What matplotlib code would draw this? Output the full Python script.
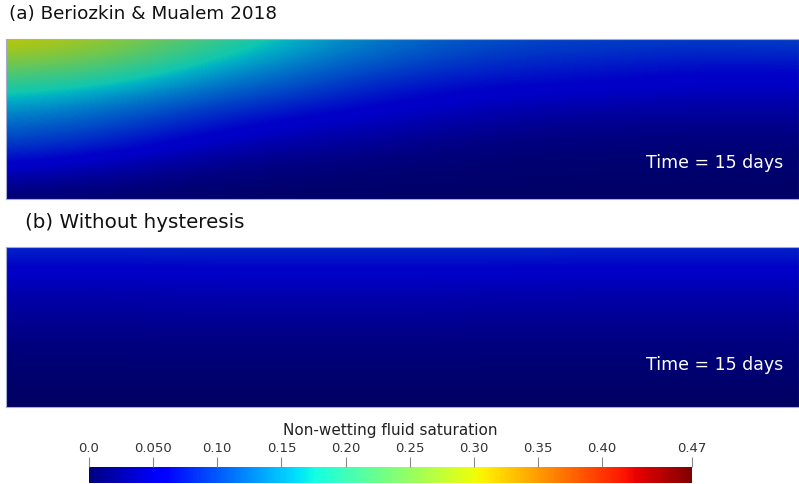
import numpy as np
import matplotlib
matplotlib.use("Agg")
import matplotlib.pyplot as plt
from matplotlib.colors import Normalize, ListedColormap

# saturation read on a coarse, evenly spaced grid (rows: top -> bottom, cols: left -> right)
n_cols = 9
n_rows = 7

sat_hyst = [
    [0.315, 0.280, 0.220, 0.160, 0.125, 0.105, 0.100, 0.097, 0.100],
    [0.245, 0.225, 0.165, 0.125, 0.100, 0.080, 0.075, 0.065, 0.068],
    [0.180, 0.155, 0.120, 0.095, 0.065, 0.055, 0.050, 0.045, 0.045],
    [0.130, 0.110, 0.080, 0.055, 0.045, 0.030, 0.025, 0.025, 0.025],
    [0.094, 0.075, 0.045, 0.030, 0.020, 0.012, 0.012, 0.010, 0.011],
    [0.045, 0.030, 0.015, 0.010, 0.008, 0.006, 0.005, 0.005, 0.005],
    [0.005, 0.004, 0.003, 0.002, 0.002, 0.002, 0.002, 0.002, 0.002],
]

sat_nohyst = [
    [0.085, 0.085, 0.086, 0.086, 0.086, 0.086, 0.085, 0.085, 0.085],
    [0.050, 0.050, 0.052, 0.052, 0.052, 0.052, 0.050, 0.050, 0.050],
    [0.035, 0.035, 0.036, 0.036, 0.036, 0.035, 0.035, 0.035, 0.035],
    [0.022, 0.022, 0.023, 0.023, 0.023, 0.022, 0.022, 0.022, 0.022],
    [0.012, 0.012, 0.012, 0.012, 0.012, 0.012, 0.012, 0.012, 0.012],
    [0.005, 0.005, 0.005, 0.005, 0.005, 0.005, 0.005, 0.005, 0.005],
    [0.000, 0.000, 0.000, 0.000, 0.000, 0.000, 0.000, 0.000, 0.000],
]

titles = ["(a) Beriozkin & Mualem 2018", "(b) Without hysteresis"]
time_label = "Time = 15 days"
cbar_label = "Non-wetting fluid saturation"
cbar_ticks = [0.0, 0.05, 0.10, 0.15, 0.20, 0.25, 0.30, 0.35, 0.40, 0.47]
cbar_ticklabels = ["0.0", "0.050", "0.10", "0.15", "0.20", "0.25", "0.30", "0.35", "0.40", "0.47"]
vmin, vmax = 0.0, 0.47

plt.rcParams['font.family'] = ['DejaVu Sans']

W, H = 799, 484
fig = plt.figure(figsize=(W / 100, H / 100), dpi=100)

def px_axes(x0, y0, x1, y1):
    # pixel box (top-left origin) -> figure axes
    return fig.add_axes([x0 / W, 1 - y1 / H, (x1 - x0) / W, (y1 - y0) / H])

jet = plt.get_cmap('jet')
# the rendered field is shaded (scene lighting), so darken the map for the panels
shade = jet(np.linspace(0, 1, 256))
shade[:, :3] *= 0.78
shaded_jet = ListedColormap(shade)
norm = Normalize(vmin, vmax)

# grid samples sit on the panel edges -> pad extent by half a cell
dx = 1.0 / (n_cols - 1)
dy = 1.0 / (n_rows - 1)
extent = (-dx / 2, 1 + dx / 2, 1 + dy / 2, -dy / 2)

panels = [
    (sat_hyst, (6, 39, 799, 199), (9, 14), 13.2, 0.225),
    (sat_nohyst, (6, 247, 799, 407), (25, 222), 14.3, 0.26),
]

for (field, box, tpos, tsize, ty), title in zip(panels, titles):
    ax = px_axes(*box)
    ax.imshow(np.array(field), cmap=shaded_jet, norm=norm, extent=extent,
              interpolation='bicubic', aspect='auto', origin='upper')
    ax.set_xlim(0, 1)
    ax.set_ylim(1, 0)
    ax.set_xticks([])
    ax.set_yticks([])
    for s in ax.spines.values():
        s.set_color('#a4acd0')
        s.set_linewidth(0.8)
    ax.text(0.98, ty, time_label, transform=ax.transAxes, color='white',
            fontsize=12.5, ha='right', va='center')
    fig.text(tpos[0] / W, 1 - tpos[1] / H, title, fontsize=tsize, ha='left', va='center',
             color='#111111')

cax = px_axes(89, 467, 692, 483)
sm = plt.cm.ScalarMappable(norm=norm, cmap=jet)
cb = fig.colorbar(sm, cax=cax, orientation='horizontal')
cb.outline.set_visible(False)
cb.set_ticks(cbar_ticks)
cb.set_ticklabels(cbar_ticklabels)
cax.xaxis.set_ticks_position('top')
cax.tick_params(axis='x', direction='out', length=7, width=0.8, color='#888888',
                labelsize=9.5, labelcolor='#333333', pad=2)
fig.text(390 / W, 1 - 431 / H, cbar_label, fontsize=11, ha='center', va='center',
         color='#222222')

fig.savefig('out.png', dpi=100)
